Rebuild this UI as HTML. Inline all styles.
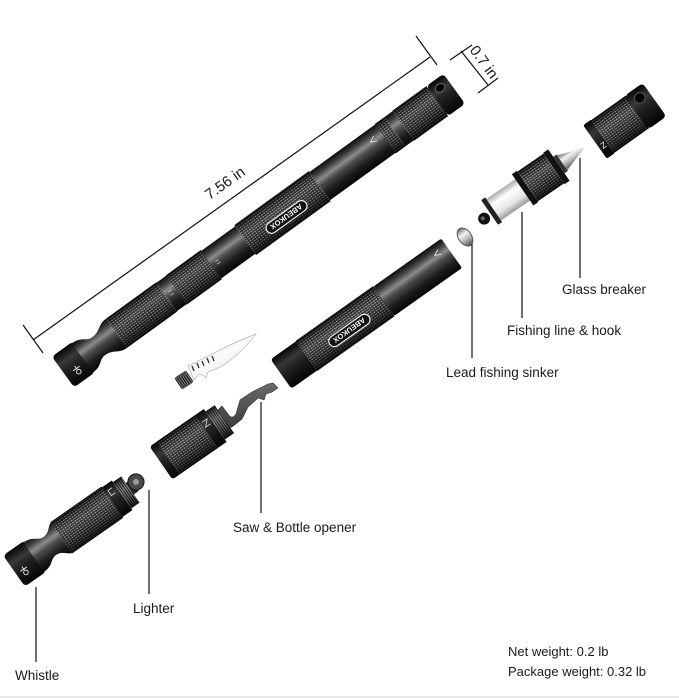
<!DOCTYPE html>
<html><head><meta charset="utf-8"><style>
html,body{margin:0;padding:0;background:#fff;}
svg{display:block;}
text{font-family:"Liberation Sans",Arial,sans-serif;fill:#1a1a1a;}
</style></head><body>
<svg width="679" height="698" viewBox="0 0 679 698" xmlns="http://www.w3.org/2000/svg">
<defs>
<linearGradient id="mt" x1="0" y1="0" x2="0" y2="1">
<stop offset="0" stop-color="#0c0c0c"/><stop offset="0.18" stop-color="#404040"/><stop offset="0.35" stop-color="#8c8c8c"/><stop offset="0.5" stop-color="#4c4c4c"/><stop offset="0.75" stop-color="#1c1c1c"/><stop offset="1" stop-color="#060606"/>
</linearGradient>
<linearGradient id="dk" x1="0" y1="0" x2="0" y2="1">
<stop offset="0" stop-color="#050505"/><stop offset="0.3" stop-color="#383838"/><stop offset="0.5" stop-color="#222"/><stop offset="1" stop-color="#030303"/>
</linearGradient>
<linearGradient id="sh" x1="0" y1="0" x2="0" y2="1">
<stop offset="0" stop-color="#000" stop-opacity="0.8"/><stop offset="0.18" stop-color="#000" stop-opacity="0.05"/><stop offset="0.35" stop-color="#fff" stop-opacity="0.12"/><stop offset="0.65" stop-color="#000" stop-opacity="0.1"/><stop offset="1" stop-color="#000" stop-opacity="0.8"/>
</linearGradient>
<linearGradient id="sp" x1="0" y1="0" x2="0" y2="1">
<stop offset="0" stop-color="#aaa"/><stop offset="0.3" stop-color="#fdfdfd"/><stop offset="0.7" stop-color="#e6e6e6"/><stop offset="1" stop-color="#9a9a9a"/>
</linearGradient>
<linearGradient id="sv" x1="0" y1="0" x2="0" y2="1">
<stop offset="0" stop-color="#666"/><stop offset="0.35" stop-color="#f4f4f4"/><stop offset="0.6" stop-color="#c0c0c0"/><stop offset="1" stop-color="#555"/>
</linearGradient>
<linearGradient id="bl" x1="0" y1="0" x2="1" y2="1">
<stop offset="0" stop-color="#d8d8d8"/><stop offset="0.5" stop-color="#fbfbfb"/><stop offset="1" stop-color="#c4c4c4"/>
</linearGradient>
<linearGradient id="tl" x1="0" y1="0" x2="0" y2="1">
<stop offset="0" stop-color="#6a6a6a"/><stop offset="1" stop-color="#3a3a3a"/>
</linearGradient>
<pattern id="kn" width="3" height="2.4" patternUnits="userSpaceOnUse">
<rect width="3" height="2.4" fill="#232323"/><rect x="0" y="0.85" width="2.1" height="0.8" fill="#b8b8b8"/>
</pattern>
<pattern id="th" width="2.2" height="4" patternUnits="userSpaceOnUse">
<rect width="2.2" height="4" fill="#262626"/><rect x="0" y="0" width="0.8" height="4" fill="#8a8a8a"/>
</pattern>
</defs>

<rect x="0" y="696" width="679" height="2" fill="#e8e8e8"/>

<!-- Dimension 7.56 in -->
<g stroke="#111" stroke-width="1.2" fill="none">
<line x1="33" y1="340" x2="430" y2="57"/>
<line x1="23" y1="325" x2="43" y2="353"/>
<line x1="416" y1="36" x2="437" y2="65"/>
<line x1="461" y1="51" x2="488" y2="85"/>
<line x1="450" y1="60" x2="472" y2="45"/>
<line x1="478" y1="93" x2="498" y2="78"/>
</g>
<text x="225" y="188" transform="rotate(-35.5 225 183)" text-anchor="middle" font-size="15">7.56 in</text>
<text x="484" y="67" transform="rotate(54 484 62)" text-anchor="middle" font-size="15">0.7 in</text>

<!-- Main pen -->
<g transform="translate(63,372) rotate(-35.9)">
<rect x="0" y="-19" width="26" height="38" rx="4" fill="url(#dk)"/>
<path d="M24,-18 C36,-18 36,-11 44,-11 C54,-11 56,-18 66,-18 L66,18 C56,18 54,11 44,11 C36,11 36,18 24,18 Z" fill="url(#mt)"/>
<rect x="66" y="-18" width="62" height="36" fill="url(#kn)"/><rect x="66" y="-18" width="62" height="36" fill="url(#sh)"/>
<rect x="128" y="-17.5" width="12" height="35" fill="url(#mt)"/>
<path d="M132,-3 L136,-3 M132,1 L136,1" stroke="#ccc" stroke-width="0.8"/>
<rect x="140" y="-18" width="43" height="36" fill="url(#kn)"/><rect x="140" y="-18" width="43" height="36" fill="url(#sh)"/>
<rect x="183" y="-17" width="42" height="34" fill="url(#mt)"/>
<path d="M188,0 L192,0 M188,3 L192,3" stroke="#ccc" stroke-width="0.8"/>
<rect x="225" y="-18.5" width="92" height="37" fill="url(#kn)"/><rect x="225" y="-18.5" width="92" height="37" fill="url(#sh)"/>
<rect x="248" y="0" width="48" height="11" rx="5.5" fill="#111" stroke="#eee" stroke-width="1.2"/>
<text x="272" y="8.5" transform="rotate(180 272 5.5)" text-anchor="middle" font-size="7.5" font-weight="bold" style="fill:#fff">ABEUKOX</text>
<rect x="317" y="-17.5" width="81" height="35" fill="url(#mt)"/>
<path d="M390,-9 L384,-6 L390,-3" stroke="#ddd" stroke-width="0.9" fill="none"/>
<rect x="398" y="-18" width="12" height="36" fill="url(#kn)"/><rect x="398" y="-18" width="12" height="36" fill="url(#sh)"/>
<rect x="410" y="-18" width="10" height="36" fill="url(#mt)"/>
<rect x="420" y="-18.5" width="42" height="37" fill="url(#kn)"/><rect x="420" y="-18.5" width="42" height="37" fill="url(#sh)"/>
<rect x="462" y="-18.5" width="21" height="37" rx="4" fill="url(#dk)"/>
<ellipse cx="472" cy="-9" rx="5" ry="4" fill="#000" stroke="#666" stroke-width="1"/>
<g stroke="#eee" stroke-width="0.9" fill="none"><circle cx="13" cy="9" r="2.3"/><path d="M13,2 L13,6 M9,5 L17,5"/></g>
</g>

<!-- Middle tube -->
<g transform="translate(281,374) rotate(-35.3)">
<rect x="0" y="-18" width="33" height="36" rx="3" fill="url(#dk)"/>
<rect x="31" y="-18.5" width="95" height="37" fill="url(#kn)"/><rect x="31" y="-18.5" width="95" height="37" fill="url(#sh)"/>
<rect x="57" y="-1.5" width="48" height="11" rx="5.5" fill="#111" stroke="#eee" stroke-width="1.2"/>
<text x="81" y="7" transform="rotate(180 81 4)" text-anchor="middle" font-size="7.5" font-weight="bold" style="fill:#fff">ABEUKOX</text>
<rect x="126" y="-18" width="83" height="36" rx="2" fill="url(#mt)"/>
<path d="M200,-11 L194,-8 L200,-5" stroke="#ddd" stroke-width="0.9" fill="none"/>
</g>

<!-- Sinker -->
<ellipse cx="465" cy="237" rx="6.5" ry="10" transform="rotate(-35 465 237)" fill="url(#sv)" stroke="#555" stroke-width="1"/>

<!-- Fishing line & hook piece -->
<g transform="translate(483,217) rotate(-34.4)">
<circle cx="0" cy="2" r="6" fill="#111"/>
<circle cx="-1" cy="1" r="2" fill="#666"/>
<rect x="8" y="-15" width="5" height="30" rx="1" fill="#222"/>
<rect x="13" y="-13" width="35" height="26" fill="url(#sp)"/>
<rect x="48" y="-19" width="6" height="38" fill="#111"/>
<rect x="54" y="-18" width="32" height="36" fill="url(#kn)"/><rect x="54" y="-18" width="32" height="36" fill="url(#sh)"/>
<rect x="86" y="-19" width="6" height="38" fill="#111"/>
<rect x="92" y="-10" width="4" height="20" fill="#333"/>
<path d="M96,-9 L123,0 L96,9 Z" fill="url(#sv)"/>
</g>

<!-- Glass breaker cap -->
<g transform="translate(595,142) rotate(-35.4)">
<rect x="0" y="-20.5" width="10" height="41" rx="2" fill="url(#dk)"/>
<rect x="9" y="-20" width="43" height="40" fill="url(#kn)"/><rect x="9" y="-20" width="43" height="40" fill="url(#sh)"/>
<rect x="51" y="-20.5" width="22" height="41" rx="4" fill="url(#dk)"/>
<ellipse cx="62" cy="-10" rx="5.5" ry="5" fill="#000" stroke="#555" stroke-width="1"/>
<path d="M3,5 L7,5 L3,10 L7,10" stroke="#ddd" stroke-width="0.8" fill="none"/>
</g>

<!-- Blade -->
<g transform="rotate(-33.5 184 380)">
<rect x="177" y="373" width="14" height="14" rx="2" fill="url(#th)"/>
</g>
<path d="M188,366 L212,354 Q235,342 256,334 Q244,350 228,362 Q218,369 208,372 L206,378 Q202,374 199,374 L194,380 Z" fill="url(#bl)" stroke="#aaa" stroke-width="0.6"/>
<g stroke="#333" stroke-width="1.3">
<line x1="192" y1="366" x2="194" y2="371"/><line x1="197" y1="363" x2="199" y2="368"/><line x1="202" y1="361" x2="204" y2="366"/><line x1="207" y1="358" x2="209" y2="363"/><line x1="212" y1="356" x2="214" y2="361"/>
</g>

<!-- Saw & bottle opener piece -->
<path d="M216,412 L222,406 L228,414 Q232,420 236,414 L240,400 L252,392 L268,384 L273,383 L278,388 L272,392 L266,394 L264,400 L258,398 L248,407 L242,419 L232,427 L222,430 Z" fill="url(#tl)" stroke="#333" stroke-width="0.6"/>
<g transform="translate(161,463) rotate(-34.7)">
<rect x="0" y="-20" width="10" height="40" rx="3" fill="url(#dk)"/>
<rect x="8" y="-20" width="47" height="40" fill="url(#kn)"/><rect x="8" y="-20" width="47" height="40" fill="url(#sh)"/>
<rect x="55" y="-20" width="11" height="40" fill="url(#dk)"/>
<path d="M57,-10 L63,-10 L57,-4 L63,-4" stroke="#ddd" stroke-width="0.8" fill="none"/>
<rect x="66" y="-17" width="11" height="34" fill="url(#th)"/><rect x="66" y="-17" width="11" height="34" fill="url(#sh)"/>
</g>

<!-- Lighter / whistle piece -->
<g transform="translate(14,571) rotate(-35)">
<rect x="0" y="-19" width="26" height="38" rx="4" fill="url(#dk)"/>
<path d="M24,-18 C36,-18 36,-11 44,-11 C52,-11 54,-19 60,-19 L60,19 C54,19 52,11 44,11 C36,11 36,18 24,18 Z" fill="url(#mt)"/>
<rect x="58" y="-19" width="62" height="38" fill="url(#kn)"/><rect x="58" y="-19" width="62" height="38" fill="url(#sh)"/>
<rect x="120" y="-18" width="12" height="36" fill="url(#dk)"/>
<path d="M128,-12 L123,-12 L123,-6 L128,-6" stroke="#ddd" stroke-width="0.8" fill="none"/>
<rect x="132" y="-16" width="10" height="32" fill="url(#th)"/><rect x="132" y="-16" width="10" height="32" fill="url(#sh)"/>
<rect x="142" y="-8" width="6" height="14" fill="#222"/>
<circle cx="151" cy="-3" r="8" fill="#4a4a4a" stroke="#1a1a1a" stroke-width="1.2"/>
<circle cx="151" cy="-3" r="3" fill="#999"/>
<g stroke="#eee" stroke-width="0.9" fill="none"><circle cx="9" cy="8" r="2.3"/><path d="M9,1 L9,5 M5,4 L13,4"/></g>
</g>

<!-- Label lines -->
<g stroke="#222" stroke-width="1.3">
<line x1="580" y1="158" x2="580" y2="278"/>
<line x1="522" y1="212" x2="522" y2="318"/>
<line x1="472" y1="244" x2="472" y2="358"/>
<line x1="261" y1="402" x2="261" y2="513"/>
<line x1="149" y1="490" x2="149" y2="594"/>
<line x1="36" y1="587" x2="36" y2="662"/>
</g>

<!-- Labels -->
<g font-size="13.5">
<text x="562" y="294">Glass breaker</text>
<text x="507" y="335">Fishing line &amp; hook</text>
<text x="446" y="377">Lead fishing sinker</text>
<text x="233" y="532">Saw &amp; Bottle opener</text>
<text x="133" y="613">Lighter</text>
<text x="15" y="680">Whistle</text>
</g>
<g font-size="13">
<text x="508" y="656">Net weight: 0.2 lb</text>
<text x="508" y="676">Package weight: 0.32 lb</text>
</g>
</svg>
</body></html>
